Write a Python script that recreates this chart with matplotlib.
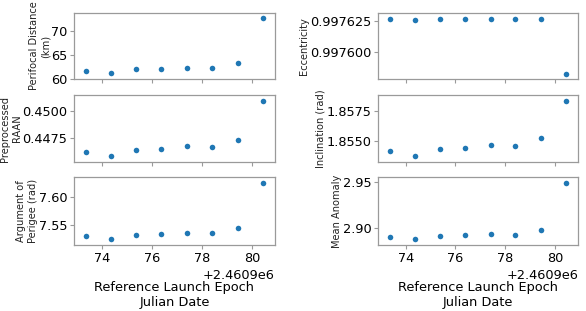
import matplotlib
matplotlib.use("Agg")
import matplotlib.pyplot as plt
from matplotlib.ticker import ScalarFormatter

jd_offset = 2460900
epoch_days = [73.37, 74.37, 75.38, 76.38, 77.41, 78.41, 79.44, 80.44]
perifocal = [61.7, 61.2, 62.0, 62.05, 62.3, 62.25, 63.3, 72.6]
eccentricity = [0.9976266, 0.9976258, 0.9976266, 0.9976266, 0.9976266, 0.9976266, 0.9976264, 0.997583]
raan = [0.44631, 0.44589, 0.44649, 0.44654, 0.44679, 0.44670, 0.44738, 0.45089]
inclination = [1.85412, 1.85370, 1.85431, 1.85439, 1.85464, 1.85453, 1.85519, 1.85833]
arg_perigee = [7.5318, 7.5253, 7.5336, 7.5353, 7.5371, 7.5359, 7.5459, 7.6247]
mean_anomaly = [2.8901, 2.8874, 2.8915, 2.8923, 2.8937, 2.8926, 2.8978, 2.9492]

labels = ["Perifocal Distance\n(km)", "Eccentricity", "Preprocessed\nRAAN",
          "Inclination (rad)", "Argument of\nPerigee (rad)", "Mean Anomaly"]
series = [perifocal, eccentricity, raan, inclination, arg_perigee, mean_anomaly]
perifocal_ticks = [60, 65, 70]
x_ticks = [74, 76, 78, 80]
xlabel = "Reference Launch Epoch\nJulian Date"

W, H = 586, 311
fig = plt.figure(figsize=(W / 100, H / 100), dpi=100)

col_left = [74, 378]
col_w = [201, 200]
row_top = [13, 95, 177]
row_bot = [79, 162, 245]

x = [jd_offset + d for d in epoch_days]
spine_c = "#9a9a9a"
axes = []
for i, (vals, lab) in enumerate(zip(series, labels)):
    r, c = divmod(i, 2)
    rect = [col_left[c] / W, 1 - row_bot[r] / H, col_w[c] / W, (row_bot[r] - row_top[r]) / H]
    ax = fig.add_axes(rect, sharex=axes[0] if axes else None)
    ax.scatter(x, vals, s=16, color="#1f77b4", linewidths=0)
    ax.margins(x=0.068, y=0.1)
    ax.set_ylabel(lab, fontsize=7.1, color="#222222", labelpad=0.5)
    for s in ax.spines.values():
        s.set_color(spine_c)
        s.set_linewidth(0.9)
    ax.tick_params(axis="both", labelsize=9.3, length=2.8, width=0.8, color=spine_c, pad=2)
    fmt = ScalarFormatter(useOffset=False)
    ax.yaxis.set_major_formatter(fmt)
    if r < 2:
        plt.setp(ax.get_xticklabels(), visible=False)
        ax.xaxis.get_offset_text().set_visible(False)
    else:
        ax.set_xlabel(xlabel, fontsize=9.3, labelpad=12)
        ax.xaxis.get_offset_text().set_fontsize(9.3)
    axes.append(ax)

axes[0].set_ylim(60, 73.7)
axes[0].set_yticks(perifocal_ticks)
axes[0].set_xticks([jd_offset + t for t in x_ticks])

fig.savefig("out.png", dpi=100)
